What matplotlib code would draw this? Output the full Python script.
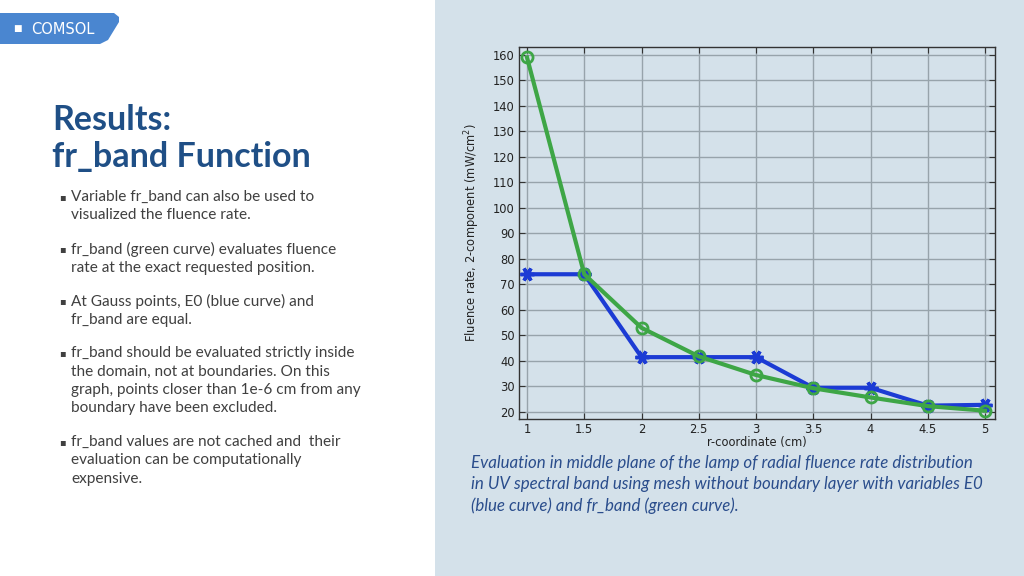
"""Slide recreation: COMSOL fr_band results with radial fluence rate plot."""

import matplotlib
matplotlib.use("Agg")
import matplotlib.pyplot as plt
from matplotlib.patches import Rectangle, Polygon

# Data
r_coord = [1, 1.5, 2, 2.5, 3, 3.5, 4, 4.5, 5]
e0_blue = [74, 74, 41.5, 41.5, 41.5, 29.5, 29.5, 22.5, 22.8]
frband_green = [159, 74, 53, 41.8, 34.5, 29.3, 25.7, 22.3, 20.5]

x_ticks = [1, 1.5, 2, 2.5, 3, 3.5, 4, 4.5, 5]
x_tick_labels = ["1", "1.5", "2", "2.5", "3", "3.5", "4", "4.5", "5"]
y_ticks = [20, 30, 40, 50, 60, 70, 80, 90, 100, 110, 120, 130, 140, 150, 160]

title_lines = "Results:\nfr_band Function"
bullets = [
    "Variable fr_band can also be used to\nvisualized the fluence rate.",
    "fr_band (green curve) evaluates fluence\nrate at the exact requested position.",
    "At Gauss points, E0 (blue curve) and\nfr_band are equal.",
    "fr_band should be evaluated strictly inside\nthe domain, not at boundaries. On this\n"
    "graph, points closer than 1e-6 cm from any\nboundary have been excluded.",
    "fr_band values are not cached and  their\nevaluation can be computationally\nexpensive.",
]
caption = ("Evaluation in middle plane of the lamp of radial fluence rate distribution\n"
           "in UV spectral band using mesh without boundary layer with variables E0\n"
           "(blue curve) and fr_band (green curve).")

W, H = 1024, 576
PANEL = "#d4e1ea"
BLUE = "#1c3bd4"
GREEN = "#3ea646"


def fx(px):
    return px / W


def fy(py):
    return 1 - py / H


fig = plt.figure(figsize=(W / 100, H / 100), dpi=100, facecolor="white")

# right-hand light blue panel
fig.patches.append(Rectangle((fx(435), 0), 1 - fx(435), 1, transform=fig.transFigure,
                             facecolor=PANEL, edgecolor="none", zorder=-2))

# COMSOL logo tab (slanted right edge)
logo = [(fx(0), fy(13)), (fx(114), fy(13)), (fx(119), fy(17)), (fx(119), fy(22)),
        (fx(108), fy(40)), (fx(100), fy(44)), (fx(0), fy(44))]
fig.patches.append(Polygon(logo, closed=True, transform=fig.transFigure,
                           facecolor="#4a86d0", edgecolor="none", zorder=-1))
fig.text(fx(13), fy(29), "\u25a0", color="white", fontsize=6.5, va="center",
         family="DejaVu Sans")
fig.text(fx(31), fy(29), "COMSOL", color="white", fontsize=10.5, va="center",
         family="DejaVu Sans")

# title
fig.text(fx(52), fy(104), title_lines, color="#1f4f86", fontsize=24.5,
         fontweight="bold", family="Lato", va="top", linespacing=1.2)

# bullet list
bullet_y = [190, 242, 294, 346, 435]
for y, txt in zip(bullet_y, bullets):
    fig.text(fx(59), fy(y + 2), "\u25aa", color="#404040", fontsize=7, va="top",
             family="DejaVu Sans")
    fig.text(fx(71), fy(y), txt, color="#404040", fontsize=11.1, va="top",
             family="Lato", linespacing=1.4)

# caption
fig.text(fx(471), fy(455), caption, color="#2a4d8c", fontsize=12.2,
         style="italic", family="Lato", va="top", linespacing=1.38)

# plot
ax = fig.add_axes([fx(519), fy(419), 476 / W, 372 / H])
ax.set_facecolor(PANEL)
ax.plot(r_coord, e0_blue, color=BLUE, lw=3, marker=(6, 2, 90), ms=10, mew=2.5,
        zorder=3)
ax.plot(r_coord, frband_green, color=GREEN, lw=3, marker="o", ms=8, mew=2,
        mfc="none", zorder=4)

ax.set_xlim(0.93, 5.087)
ax.set_ylim(17.25, 163.1)
ax.set_xticks(x_ticks)
ax.set_xticklabels(x_tick_labels)
ax.set_yticks(y_ticks)
ax.grid(True, color="#97a3ab", lw=1)
ax.set_axisbelow(True)
ax.tick_params(direction="in", length=4, color="#333333", labelcolor="#222222",
               labelsize=8.3, top=True, right=True, pad=3)
for s in ax.spines.values():
    s.set_color("#333333")
    s.set_linewidth(1)

ax.set_xlabel("r-coordinate (cm)", fontsize=8.3, color="#222222", labelpad=0)
ax.set_ylabel("Fluence rate, 2-component (mW/cm$^2$)", fontsize=8.3,
              color="#222222", labelpad=8)

fig.savefig("out.png", dpi=100, facecolor="white")
